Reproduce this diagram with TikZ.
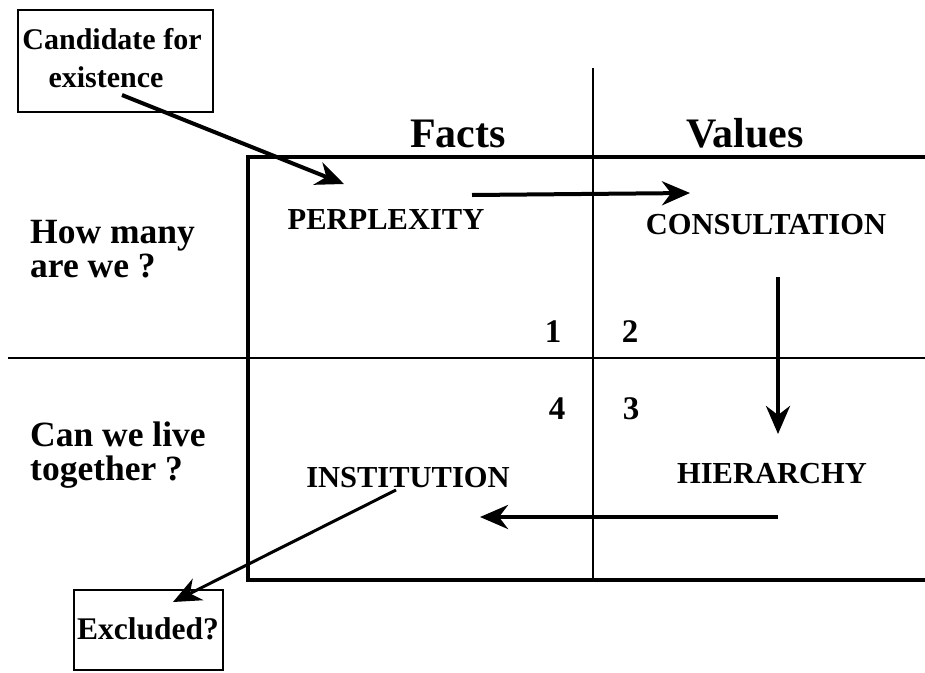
\documentclass[tikz,border=0pt]{standalone}
\usepackage{fontspec}
\setmainfont{Liberation Serif}
\usetikzlibrary{arrows.meta}
\begin{document}
\begin{tikzpicture}[x=1pt,y=-1pt,
  txt/.style={inner sep=0pt, anchor=base, font=\bfseries\fontsize{30.5}{30}\selectfont},
  head/.style={txt, font=\bfseries\fontsize{42}{42}\selectfont},
  side/.style={inner sep=0pt, anchor=base west, font=\bfseries\fontsize{35.5}{34}\selectfont},
  small/.style={txt, font=\bfseries\fontsize{30}{28}\selectfont},
  digit/.style={txt, font=\bfseries\fontsize{33}{33}\selectfont},
  frame/.style={line width=4.5pt},
  divider/.style={line width=2pt},
  thinbox/.style={draw, line width=1.5pt},
  flow/.style={line width=4pt, -{Stealth[length=28pt,width=24pt,inset=9pt]}},
  ]
\useasboundingbox (0,0) rectangle (925,672);
% frame and dividers
\draw[frame] (925,157) -- (248,157) -- (248,580) -- (925,580);
\draw[divider] (593,68) -- (593,578);
\draw[divider] (8,358) -- (925,358);
% boxes
\node[thinbox, minimum width=195pt, minimum height=102pt, inner sep=0pt] (cand) at (115.5,61) {};
\node[small] (candA) at (112,49) {Candidate for};
\node[small] (candB) at (106,87) {existence};
\node[thinbox, minimum width=149pt, minimum height=80pt, inner sep=0pt] (excl) at (148.5,630) {};
\node[small, font=\bfseries\fontsize{31.5}{31}\selectfont] (exclT) at (148,639) {Excluded?};
% headings
\node[head] (facts) at (458,147) {Facts};
\node[head] (values) at (745,147) {Values};
% side labels
\node[side] (q1a) at (30,243) {How many};
\node[side] (q1b) at (30,277) {are we ?};
\node[side] (q2a) at (30,446) {Can we live};
\node[side] (q2b) at (30,480) {together ?};
% stages
\node[txt] (perp) at (386,229) {PERPLEXITY};
\node[txt] (cons) at (766,234) {CONSULTATION};
\node[txt] (hier) at (772,483) {HIERARCHY};
\node[txt] (inst) at (408,487) {INSTITUTION};
% quadrant numbers
\node[digit] (n1) at (553,342) {1};
\node[digit] (n2) at (630,342) {2};
\node[digit] (n4) at (557,419) {4};
\node[digit] (n3) at (631,419) {3};
% arrow end points
\coordinate (c1) at (122,95);
\coordinate (p1) at (344,184);
\coordinate (h1) at (472,195);
\coordinate (h2) at (690,193);
\coordinate (v1) at (778,277);
\coordinate (v2) at (778,434);
\coordinate (b1) at (778,517);
\coordinate (b2) at (480,517);
\coordinate (i1) at (396,490);
\coordinate (e1) at (173,602);
\draw[flow] (c1) -- (p1);
\draw[flow] (h1) -- (h2);
\draw[flow] (v1) -- (v2);
\draw[flow] (b1) -- (b2);
\draw[flow, line width=3pt] (i1) -- (e1);
\end{tikzpicture}
\end{document}
